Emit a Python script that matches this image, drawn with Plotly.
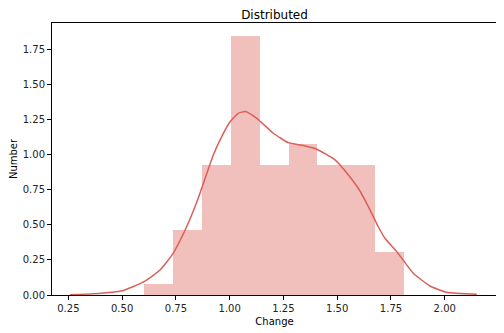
import plotly.graph_objects as go

# Histogram (density) bins
bin_edges = [0.602, 0.736, 0.871, 1.005, 1.140, 1.274, 1.408, 1.543, 1.677, 1.812]
bin_heights = [0.078, 0.463, 0.928, 1.845, 0.928, 1.075, 0.928, 0.928, 0.304]

# KDE curve
kde_x = [0.258, 0.366, 0.501, 0.602, 0.676, 0.737, 0.793, 0.842, 0.886, 0.924, 0.963,
         1.002, 1.040, 1.072, 1.126, 1.203, 1.273, 1.343, 1.405, 1.490, 1.552, 1.598,
         1.645, 1.691, 1.722, 1.777, 1.854, 1.932, 2.009, 2.149]
kde_y = [0.002, 0.009, 0.031, 0.095, 0.178, 0.297, 0.463, 0.641, 0.831, 0.997, 1.128,
         1.234, 1.294, 1.306, 1.258, 1.152, 1.085, 1.064, 1.038, 0.962, 0.855, 0.760,
         0.629, 0.486, 0.404, 0.309, 0.155, 0.064, 0.019, 0.005]

x_ticks = [0.25, 0.50, 0.75, 1.00, 1.25, 1.50, 1.75, 2.00]
y_ticks = [0.00, 0.25, 0.50, 0.75, 1.00, 1.25, 1.50, 1.75]

centers = [(a + b) / 2 for a, b in zip(bin_edges[:-1], bin_edges[1:])]
widths = [b - a for a, b in zip(bin_edges[:-1], bin_edges[1:])]

line_color = "#db5f57"
FONT = "DejaVu Sans"

# page body has an 8px margin; compensate so the plot lands where the reference has it
W, H = 496, 325
L, R, T, B = 44, 7, 15, 38

fig = go.Figure()
fig.add_trace(go.Bar(x=centers, y=bin_heights, width=widths,
                     marker=dict(color="rgba(219,95,87,0.4)", line=dict(width=0)),
                     showlegend=False, hoverinfo="skip"))
fig.add_trace(go.Scatter(x=kde_x, y=kde_y, mode="lines",
                         line=dict(color=line_color, width=1.5, shape="spline", smoothing=0.5),
                         showlegend=False))

axis_common = dict(showgrid=False, zeroline=False, showline=True, linecolor="black", linewidth=1,
                   mirror=True, ticks="outside", ticklen=4, tickcolor="black", tickwidth=1,
                   automargin=False,
                   tickfont=dict(family=FONT, size=10, color="#222"))

fig.update_layout(
    width=W, height=H,
    margin=dict(l=L, r=R, t=T, b=B),
    paper_bgcolor="white", plot_bgcolor="white",
    bargap=0,
    title=dict(text="Distributed", x=(L + (W - R)) / 2 / W, xanchor="center", y=1 - 6.5 / H, yanchor="middle",
               font=dict(family=FONT, size=12, color="black")),
    xaxis=dict(range=[0.174, 2.243], tickvals=x_ticks, ticktext=[f"{v:.2f}" for v in x_ticks],
               title=dict(text="Change", font=dict(family=FONT, size=10, color="black"), standoff=4),
               **axis_common),
    yaxis=dict(range=[0, 1.937], tickvals=y_ticks, ticktext=[f"{v:.2f}" for v in y_ticks],
               title=dict(text="Number", font=dict(family=FONT, size=10, color="black"), standoff=6),
               **axis_common),
)

fig.write_html("out.html")
